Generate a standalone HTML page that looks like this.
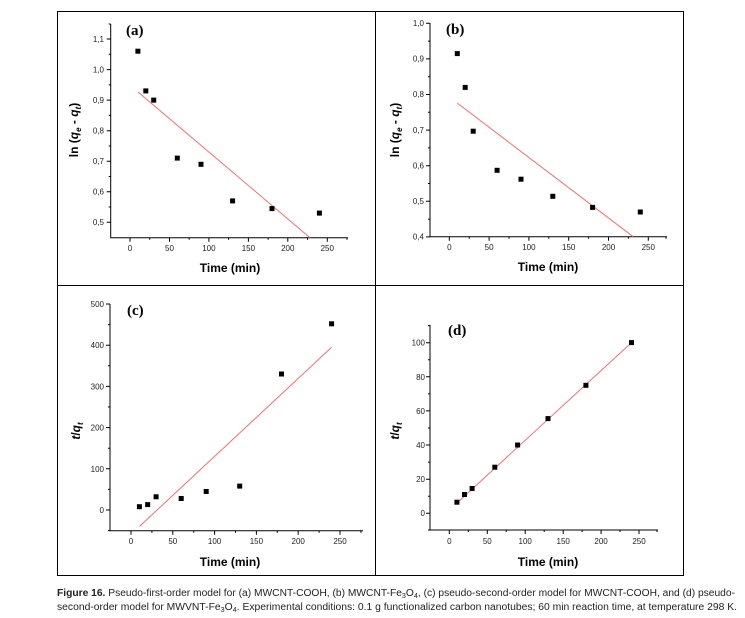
<!DOCTYPE html>
<html><head><meta charset="utf-8"><style>
html,body{margin:0;padding:0;background:#fff;}
svg{display:block;font-family:"Liberation Sans",Arial,sans-serif;}
.t{font-size:8px;fill:#222;}
.ax{stroke:#000;stroke-width:1;fill:none;}
.fit{stroke:#f07070;stroke-width:1;fill:none;}
.lab{font-size:12px;font-weight:bold;}
.pl{font-family:"Liberation Serif",serif;font-size:15px;font-weight:bold;}
</style></head><body>
<svg width="745" height="618" viewBox="0 0 745 618">
<rect x="57.5" y="11.5" width="626" height="564" fill="none" stroke="#000"/>
<line x1="375.5" y1="11" x2="375.5" y2="576" stroke="#000"/>
<line x1="57" y1="285.5" x2="684" y2="285.5" stroke="#000"/>

<!-- Panel a -->
<g>
<path class="ax" d="M110.7,24V237.7H348"/>
<path class="ax" d="M110.7,222.3h-4M110.7,191.8h-4M110.7,161.2h-4M110.7,130.7h-4M110.7,100.1h-4M110.7,69.6h-4M110.7,39h-4M110.7,207h-2M110.7,176.5h-2M110.7,146h-2M110.7,115.4h-2M110.7,84.9h-2M110.7,54.3h-2M110.7,24h-2"/>
<path class="ax" d="M130,237.7v4M169.5,237.7v4M208.9,237.7v4M248.4,237.7v4M287.8,237.7v4M327.3,237.7v4M149.7,237.7v2M189.2,237.7v2M228.6,237.7v2M268.1,237.7v2M307.5,237.7v2M347,237.7v2"/>
<g class="t" text-anchor="end"><text x="104" y="225">0,5</text><text x="104" y="194.5">0,6</text><text x="104" y="164">0,7</text><text x="104" y="133.5">0,8</text><text x="104" y="103">0,9</text><text x="104" y="72.5">1,0</text><text x="104" y="42">1,1</text></g>
<g class="t" text-anchor="middle"><text x="130" y="251">0</text><text x="169.5" y="251">50</text><text x="208.9" y="251">100</text><text x="248.4" y="251">150</text><text x="287.8" y="251">200</text><text x="327.3" y="251">250</text></g>
<line class="fit" x1="137.9" y1="91.9" x2="310" y2="237.7"/>
<g fill="#000"><rect x="135.4" y="48.7" width="5" height="5"/><rect x="143.3" y="88.4" width="5" height="5"/><rect x="151.2" y="97.6" width="5" height="5"/><rect x="174.8" y="155.6" width="5" height="5"/><rect x="198.5" y="161.8" width="5" height="5"/><rect x="230.1" y="198.4" width="5" height="5"/><rect x="269.5" y="206.1" width="5" height="5"/><rect x="316.9" y="210.6" width="5" height="5"/></g>
<text class="pl" x="126" y="35">(a)</text>
<text class="lab" x="230" y="272" text-anchor="middle">Time (min)</text>
<text class="lab" transform="translate(78,130) rotate(-90)" text-anchor="middle">ln (<tspan font-style="italic">q</tspan><tspan font-size="8" font-style="italic" dy="3">e</tspan><tspan dy="-3"> - </tspan><tspan font-style="italic">q</tspan><tspan font-size="8" font-style="italic" dy="3">t</tspan><tspan dy="-3">)</tspan></text>
</g>

<!-- Panel b -->
<g>
<path class="ax" d="M430,23V236.7H667"/>
<path class="ax" d="M430,236.9h-4M430,201.3h-4M430,165.7h-4M430,130.1h-4M430,94.5h-4M430,58.9h-4M430,23.3h-4M430,219.1h-2M430,183.5h-2M430,147.9h-2M430,112.3h-2M430,76.7h-2M430,41.1h-2"/>
<path class="ax" d="M449.3,236.7v4M489.1,236.7v4M528.9,236.7v4M568.7,236.7v4M608.5,236.7v4M648.3,236.7v4M469.2,236.7v2M509,236.7v2M548.8,236.7v2M588.6,236.7v2M628.4,236.7v2M666,236.7v2"/>
<g class="t" text-anchor="end"><text x="424" y="239.5">0,4</text><text x="424" y="204">0,5</text><text x="424" y="168.5">0,6</text><text x="424" y="133">0,7</text><text x="424" y="97">0,8</text><text x="424" y="61.5">0,9</text><text x="424" y="26">1,0</text></g>
<g class="t" text-anchor="middle"><text x="449.3" y="250">0</text><text x="489.1" y="250">50</text><text x="528.9" y="250">100</text><text x="568.7" y="250">150</text><text x="608.5" y="250">200</text><text x="648.3" y="250">250</text></g>
<line class="fit" x1="457.3" y1="103.1" x2="633.2" y2="236.7"/>
<g fill="#000"><rect x="454.8" y="51.1" width="5" height="5"/><rect x="462.7" y="84.9" width="5" height="5"/><rect x="470.7" y="128.7" width="5" height="5"/><rect x="494.6" y="167.8" width="5" height="5"/><rect x="518.5" y="176.7" width="5" height="5"/><rect x="550.3" y="193.8" width="5" height="5"/><rect x="590.1" y="204.9" width="5" height="5"/><rect x="637.8" y="209.5" width="5" height="5"/></g>
<text class="pl" x="446" y="34">(b)</text>
<text class="lab" x="548" y="271" text-anchor="middle">Time (min)</text>
<text class="lab" transform="translate(399,130) rotate(-90)" text-anchor="middle">ln (<tspan font-style="italic">q</tspan><tspan font-size="8" font-style="italic" dy="3">e</tspan><tspan dy="-3"> - </tspan><tspan font-style="italic">q</tspan><tspan font-size="8" font-style="italic" dy="3">t</tspan><tspan dy="-3">)</tspan></text>
</g>

<!-- Panel c -->
<g>
<path class="ax" d="M110,304V530.7H363"/>
<path class="ax" d="M110,510h-4M110,468.8h-4M110,427.6h-4M110,386.4h-4M110,345.2h-4M110,304h-4M110,530.6h-2M110,489.4h-2M110,448.2h-2M110,407h-2M110,365.8h-2M110,324.6h-2"/>
<path class="ax" d="M131,530.7v4M172.8,530.7v4M214.6,530.7v4M256.4,530.7v4M298.2,530.7v4M340,530.7v4M151.9,530.7v2M193.7,530.7v2M235.5,530.7v2M277.3,530.7v2M319.1,530.7v2M360.9,530.7v2"/>
<g class="t" text-anchor="end"><text x="104" y="513">0</text><text x="104" y="471.8">100</text><text x="104" y="430.6">200</text><text x="104" y="389.4">300</text><text x="104" y="348.2">400</text><text x="104" y="307">500</text></g>
<g class="t" text-anchor="middle"><text x="131" y="544">0</text><text x="172.8" y="544">50</text><text x="214.6" y="544">100</text><text x="256.4" y="544">150</text><text x="298.2" y="544">200</text><text x="340" y="544">250</text></g>
<line class="fit" x1="139.4" y1="526.5" x2="331.6" y2="347.3"/>
<g fill="#000"><rect x="136.9" y="504.2" width="5" height="5"/><rect x="145.2" y="502.1" width="5" height="5"/><rect x="153.6" y="494.3" width="5" height="5"/><rect x="178.7" y="496" width="5" height="5"/><rect x="203.7" y="489" width="5" height="5"/><rect x="237.2" y="483.6" width="5" height="5"/><rect x="279" y="371.5" width="5" height="5"/><rect x="329.1" y="321.3" width="5" height="5"/></g>
<text class="pl" x="127" y="315">(c)</text>
<text class="lab" x="230" y="566" text-anchor="middle">Time (min)</text>
<text class="lab" transform="translate(80,431) rotate(-90)" text-anchor="middle"><tspan font-style="italic">t</tspan>/<tspan font-style="italic">q</tspan><tspan font-size="8" font-style="italic" dy="3">t</tspan></text>
</g>

<!-- Panel d -->
<g>
<path class="ax" d="M430,325V530H658"/>
<path class="ax" d="M430,513.3h-4M430,479.2h-4M430,445h-4M430,410.9h-4M430,376.8h-4M430,342.7h-4M430,530h-2M430,496.2h-2M430,462.1h-2M430,428h-2M430,393.9h-2M430,359.7h-2M430,325.6h-2"/>
<path class="ax" d="M449.3,530v4M487.3,530v4M525.2,530v4M563.2,530v4M601.1,530v4M639,530v4M468.3,530v2M506.2,530v2M544.2,530v2M582.1,530v2M620,530v2M657,530v2"/>
<g class="t" text-anchor="end"><text x="425" y="516">0</text><text x="425" y="482">20</text><text x="425" y="448">40</text><text x="425" y="414">60</text><text x="425" y="380">80</text><text x="425" y="345.5">100</text></g>
<g class="t" text-anchor="middle"><text x="449.3" y="544">0</text><text x="487.3" y="544">50</text><text x="525.2" y="544">100</text><text x="563.2" y="544">150</text><text x="601.1" y="544">200</text><text x="639" y="544">250</text></g>
<line class="fit" x1="456.9" y1="503.1" x2="631.5" y2="342.6"/>
<g fill="#000"><rect x="454.4" y="499.7" width="5" height="5"/><rect x="462" y="492" width="5" height="5"/><rect x="469.6" y="486" width="5" height="5"/><rect x="492.3" y="464.7" width="5" height="5"/><rect x="515.1" y="442.5" width="5" height="5"/><rect x="545.5" y="416.1" width="5" height="5"/><rect x="583.4" y="382.8" width="5" height="5"/><rect x="629" y="340.1" width="5" height="5"/></g>
<text class="pl" x="448" y="335">(d)</text>
<text class="lab" x="548" y="566" text-anchor="middle">Time (min)</text>
<text class="lab" transform="translate(399,431) rotate(-90)" text-anchor="middle"><tspan font-style="italic">t</tspan>/<tspan font-style="italic">q</tspan><tspan font-size="8" font-style="italic" dy="3">t</tspan></text>
</g>

<!-- Caption -->
<g font-size="10" fill="#222">
<text x="57" y="596" textLength="678" lengthAdjust="spacingAndGlyphs"><tspan font-weight="bold">Figure 16.</tspan> Pseudo-first-order model for (a) MWCNT-COOH, (b) MWCNT-Fe<tspan font-size="7" dy="2">3</tspan><tspan dy="-2">O</tspan><tspan font-size="7" dy="2">4</tspan><tspan dy="-2">, (c) pseudo-second-order model for MWCNT-COOH, and (d) pseudo-</tspan></text>
<text x="57" y="610" textLength="680" lengthAdjust="spacingAndGlyphs">second-order model for MWVNT-Fe<tspan font-size="7" dy="2">3</tspan><tspan dy="-2">O</tspan><tspan font-size="7" dy="2">4</tspan><tspan dy="-2">. Experimental conditions: 0.1 g functionalized carbon nanotubes; 60 min reaction time, at temperature 298 K.</tspan></text>
</g>
</svg>
</body></html>
